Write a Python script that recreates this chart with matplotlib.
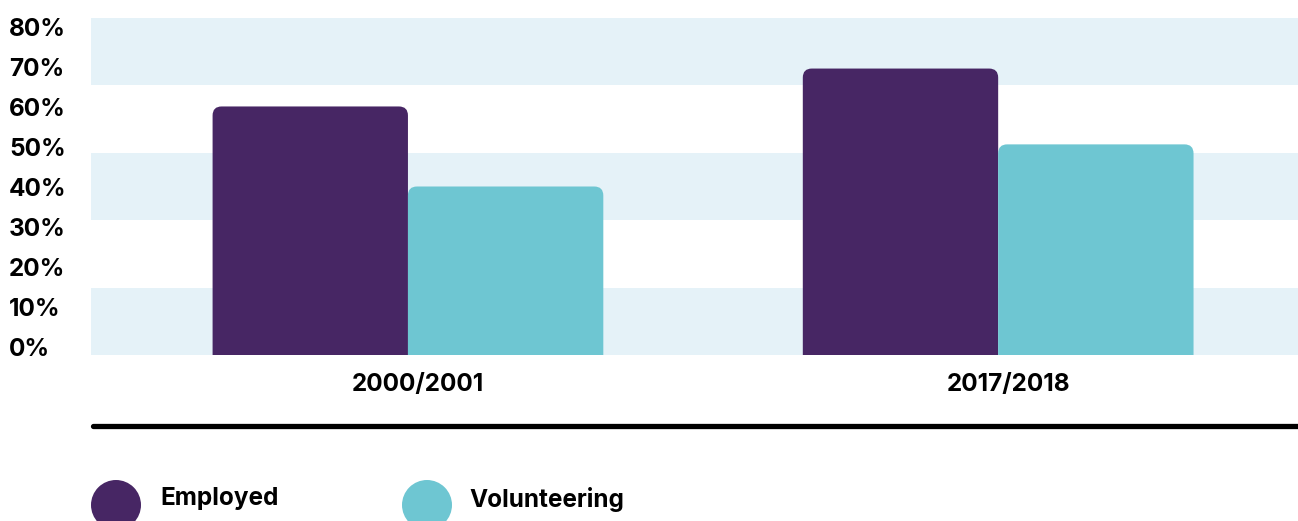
import numpy as np
import matplotlib.pyplot as plt
from matplotlib.patches import FancyBboxPatch, Circle
from matplotlib.lines import Line2D
import matplotlib.transforms as mtransforms

''' DATA '''
periods = ["2000/2001", "2017/2018"]
employed = [59, 68]
volunteering = [40, 50]
series_names = ["Employed", "Volunteering"]
tick_labels = ["0%", "10%", "20%", "30%", "40%", "50%", "60%", "70%", "80%"]

''' STYLE '''
purple = "#472664"
teal = "#6EC6D2"
band = "#E5F2F8"
plt.rcParams['font.family'] = ['Inter', 'DejaVu Sans']
fs = 17.5
fw = 'bold'
W, H = 1298, 521

fig = plt.figure(figsize=(W / 100, H / 100), dpi=100)
ax = fig.add_axes([91 / W, 1 - 355 / H, 1 - 91 / W, 337 / H])
ax.set_xlim(-0.537, 1.508)
ax.set_ylim(0, 80)
ax.axis('off')

# alternating background bands
for y0 in (0, 32, 64):
    ax.axhspan(y0, y0 + 16, color=band, lw=0, zorder=0)

# bars with rounded tops
x = np.arange(len(periods))
w = 0.331
px_x = (1.508 + 0.537) / (W - 91)
px_y = 80 / 337
r = 9 * px_x
for vals, col, off in ((employed, purple, -w / 2), (volunteering, teal, w / 2)):
    for xi, v in zip(x, vals):
        p = FancyBboxPatch((xi + off - w / 2, -5), w, v + 5,
                           boxstyle="round,pad=0,rounding_size=%f" % r,
                           mutation_aspect=px_y / px_x,
                           fc=col, ec='none', zorder=2)
        ax.add_patch(p)

# y labels (placed as in the original, a bit compressed)
ypos = np.linspace(355 - 349, 355 - 30, len(tick_labels)) * px_y
tr = mtransforms.blended_transform_factory(fig.transFigure, ax.transData)
for yp, lab in zip(ypos, tick_labels):
    ax.text(9 / W, yp, lab, transform=tr, ha='left', va='center',
            fontsize=fs, fontweight=fw, color='black')

# category labels
tr2 = mtransforms.offset_copy(ax.transData, fig=fig, x=10, y=0, units='dots')
for xi, lab in zip(x, periods):
    ax.text(xi, -30 * px_y, lab, transform=tr2, ha='center', va='center',
            fontsize=fs, fontweight=fw, color='black', clip_on=False)

# thick rule
fig.add_artist(Line2D([93 / W, 1.0], [1 - 426 / H] * 2, color='black',
                      lw=3.8, solid_capstyle='round', transform=fig.transFigure))

# legend
for cx, tx, col, name in ((116, 160, purple, series_names[0]),
                          (427, 469, teal, series_names[1])):
    fig.add_artist(Circle((cx, H - 505), 25, transform=None, fc=col, ec='none'))
    fig.text(tx / W, 1 - 499 / H, name, ha='left', va='center',
             fontsize=fs, fontweight=fw, color='black')

fig.savefig("out.png", dpi=100)
